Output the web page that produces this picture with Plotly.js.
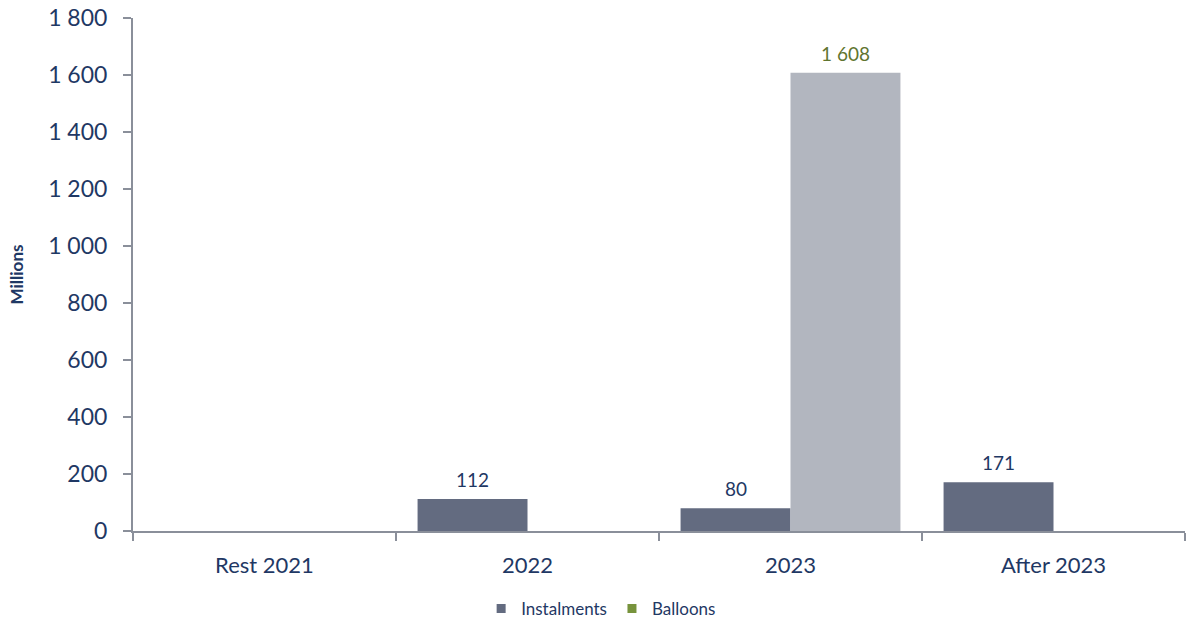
<!DOCTYPE html>
<html>
<head>
<meta charset="utf-8">
<script src="https://cdn.plot.ly/plotly-3.0.1.min.js"></script>
<style>html,body{margin:0;padding:0;background:#fff;}#chart{width:1187px;height:621px;}</style>
</head>
<body>
<div id="chart"></div>
<script>
var categories = ["Rest 2021", "2022", "2023", "After 2023"];
var instalments = [0, 112, 80, 171];
var balloons = [0, 0, 1608, 0];
var yTicks = [0, 200, 400, 600, 800, 1000, 1200, 1400, 1600, 1800];

var navy = "#1f3864";
var instColor = "#636b80";
var balloonBarColor = "#b2b6bf";
var balloonLegendColor = "#77933c";
var balloonLabelColor = "#5f7530";
var axisColor = "#8a8f9a";
var fontFam = "Lato, 'Open Sans', sans-serif";

var emptyY = categories.map(function () { return null; });

var traces = [
  {type: "bar", name: "Instalments", x: categories, y: instalments,
   marker: {color: instColor}, showlegend: false, hoverinfo: "x+y"},
  {type: "bar", name: "Balloons", x: categories, y: balloons,
   marker: {color: balloonBarColor}, showlegend: false, hoverinfo: "x+y"},
  {type: "scatter", mode: "markers", name: "Instalments", x: categories, y: emptyY,
   marker: {symbol: "square", size: 9, color: instColor}},
  {type: "scatter", mode: "markers", name: "Balloons", x: categories, y: emptyY,
   marker: {symbol: "square", size: 9, color: balloonLegendColor}}
];

function fmt(v) {
  return String(v).replace(/\B(?=(\d{3})+(?!\d))/g, " ");
}

var annotations = [];
categories.forEach(function (c, i) {
  if (instalments[i] > 0) {
    annotations.push({x: i, y: instalments[i], xref: "x", yref: "y", text: fmt(instalments[i]),
      showarrow: false, yanchor: "bottom", xshift: -55, yshift: 6,
      font: {family: fontFam, size: 19, color: navy}});
  }
  if (balloons[i] > 0) {
    annotations.push({x: i, y: balloons[i], xref: "x", yref: "y", text: fmt(balloons[i]),
      showarrow: false, yanchor: "bottom", xshift: 55, yshift: 6,
      font: {family: fontFam, size: 19, color: balloonLabelColor}});
  }
});

var layout = {
  width: 1187, height: 621,
  margin: {l: 133, r: 2, t: 18, b: 90, autoexpand: false},
  paper_bgcolor: "#fff", plot_bgcolor: "#fff",
  separators: ". ",
  barmode: "group",
  bargap: 0.164,
  bargroupgap: 0,
  font: {family: fontFam, color: navy},
  xaxis: {
    type: "category",
    categoryarray: categories, categoryorder: "array",
    range: [-0.5, categories.length - 0.5], autorange: false,
    automargin: false,
    showline: true, linecolor: axisColor, linewidth: 2,
    ticks: "outside", tickson: "boundaries", ticklen: 8, tickwidth: 2, tickcolor: axisColor,
    tickfont: {family: fontFam, size: 22, color: navy},
    ticklabelstandoff: 14, tickangle: 0,
    showgrid: false, zeroline: false, fixedrange: true
  },
  yaxis: {
    range: [0, 1800], autorange: false,
    automargin: false,
    tickvals: yTicks, ticktext: yTicks.map(fmt),
    showline: true, linecolor: axisColor, linewidth: 2,
    ticks: "outside", ticklen: 8, tickwidth: 2, tickcolor: axisColor,
    tickfont: {family: fontFam, size: 23, color: navy},
    ticklabelstandoff: 11,
    showgrid: false, zeroline: false, fixedrange: true,
    title: {text: "<b>Millions</b>", font: {family: fontFam, size: 17, color: navy}, standoff: 20}
  },
  legend: {
    orientation: "h", x: 0.445, xanchor: "center", y: -0.117, yanchor: "top",
    font: {family: fontFam, size: 17, color: navy},
    itemclick: false, itemdoubleclick: false
  },
  annotations: annotations
};

Plotly.newPlot("chart", traces, layout, {displayModeBar: false, staticPlot: true});
</script>
</body>
</html>
